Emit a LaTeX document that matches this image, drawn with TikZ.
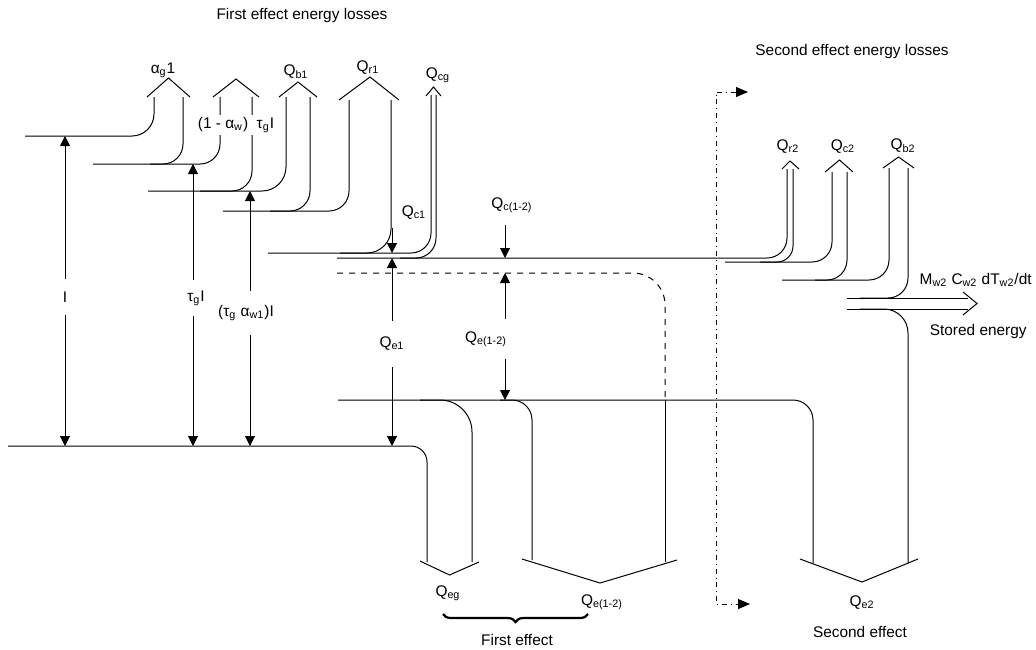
\documentclass[tikz,border=0pt]{standalone}
\usepackage{fontspec}
\setmainfont{Liberation Sans}
\usepackage{tikz}
\usetikzlibrary{arrows.meta,decorations.pathreplacing}

\begin{document}
\begin{tikzpicture}[x=0.5pt, y=-0.5pt,
  band/.style={line width=0.5pt, rounded corners=10pt},
  chev/.style={line width=0.5pt},
  dim/.style={line width=0.5pt, -{Triangle[length=5pt, width=5pt]}},
  lbl/.style={font=\fontsize{7.7}{9}\selectfont, inner sep=1pt},
  gap/.style={lbl, inner ysep=5pt}]
\useasboundingbox (0,0) rectangle (1036,649);

\draw[band, rounded corners=11pt] (25,136) -- (154,136) -- (154,97);
\draw[band] (93,164) -- (220,164) -- (220,97);
\draw[band] (150,164) -- (183,164) -- (183,97);
\draw[band, rounded corners=12pt] (148,191) -- (286,191) -- (286,97);
\draw[band] (200,191) -- (252,191) -- (252,97);
\draw[band] (223,211) -- (349,211) -- (349,100);
\draw[band] (270,211) -- (310,211) -- (310,97);
\draw[band] (268,253) -- (431,253) -- (431,95);
\draw[band, rounded corners=12pt] (340,253) -- (391,253) -- (391,100);
\draw[band] (337,258) -- (787,258) -- (787,169);
\draw[band] (400,258) -- (436,258) -- (436,95);
\draw[band, dashed, rounded corners=16pt] (337,273) -- (665,273) -- (665,400);
\draw[band] (338,400) -- (813,400) -- (813,563);
\draw[band, rounded corners=16pt] (420,400) -- (472,400) -- (472,562);
\draw[band] (500,400) -- (532,400) -- (532,560);
\draw[band] (665,400) -- (665,562);
\draw[band, rounded corners=8pt] (8,446) -- (427,446) -- (427,562);

\draw[band] (725,262) -- (832,262) -- (832,172);
\draw[band, rounded corners=8pt] (760,262) -- (793,262) -- (793,169);
\draw[band] (782,280) -- (889,280) -- (889,168);
\draw[band] (815,280) -- (847,280) -- (847,172);
\draw[band] (847,298) -- (968,298);
\draw[band] (860,298) -- (908,298) -- (908,168);
\draw[band] (847,309) -- (968,309);
\draw[band, rounded corners=12pt] (860,309) -- (908,309) -- (908,563);

\draw[chev] (147,97) -- (168.5,78) -- (190,97);
\draw[chev] (213,97) -- (236,79) -- (259,97);
\draw[chev] (279,97) -- (298,82) -- (317,97);
\draw[chev] (339,100) -- (370,77) -- (399,100);
\draw[chev] (426,96) -- (433.5,87) -- (441,96);
\draw[chev] (782,169) -- (790,161) -- (799,169);
\draw[chev] (825,172) -- (839.5,160) -- (853,172);
\draw[chev] (883,168) -- (898.5,157) -- (914,168);
\draw[chev] (963,292) -- (977,303.5) -- (963,315);
\draw[chev] (420,561) -- (449.5,575) -- (479,562);
\draw[chev] (522,559) -- (600,583) -- (677,560);
\draw[chev] (800,559) -- (862,582) -- (918,559);

\coordinate (iT) at (65,136);
\coordinate (iB) at (65,446);
\coordinate (tgT) at (193,164);
\coordinate (tgB) at (193,446);
\coordinate (taT) at (250,191);
\coordinate (taB) at (250,446);
\coordinate (e1T) at (392,258);
\coordinate (e1B) at (392,446);
\coordinate (c1S) at (392,228);
\coordinate (c1E) at (392,253);
\coordinate (c12S) at (505,225);
\coordinate (c12E) at (505,258);
\coordinate (e12T) at (505,273);
\coordinate (e12B) at (505,400);
\coordinate (sepT) at (748,92);
\coordinate (sepB) at (750,604);

\node[lbl] (ttl1) at (302,16) {First effect energy losses};
\node[lbl] (ttl2) at (852,52) {Second effect energy losses};
\node[lbl] (lAg) at (163,70) {α\textsubscript{g}1};
\node[lbl, fill=white] (lRf) at (236,125) {(1 - α\textsubscript{w})\ \ τ\textsubscript{g}I};
\node[lbl] (lQb1) at (296,72) {Q\textsubscript{b1}};
\node[lbl] (lQr1) at (368,68) {Q\textsubscript{r1}};
\node[lbl] (lQcg) at (438,75) {Q\textsubscript{cg}};
\node[lbl] (lQc1) at (414,213) {Q\textsubscript{c1}};
\node[lbl] (lQc12) at (512,205) {Q\textsubscript{c(1-2)}};
\node[lbl] (lQr2) at (788,147) {Q\textsubscript{r2}};
\node[lbl] (lQc2) at (843,147) {Q\textsubscript{c2}};
\node[lbl] (lQb2) at (903,146) {Q\textsubscript{b2}};
\node[lbl, anchor=east] (lStor) at (1034,280) {M\textsubscript{w2} C\textsubscript{w2} dT\textsubscript{w2}/dt};
\node[lbl, anchor=east] (lSe) at (1029,332) {Stored energy};
\node[lbl] (lQeg) at (448,593) {Q\textsubscript{eg}};
\node[lbl] (lQe12b) at (602,602) {Q\textsubscript{e(1-2)}};
\node[lbl] (lQe2) at (862,603) {Q\textsubscript{e2}};
\node[lbl] (lFe) at (517,640) {First effect};
\node[lbl] (lSef) at (860,632) {Second effect};

\node[gap, inner ysep=6pt] (lI) at (65,297) {I};
\node[gap] (lTg) at (196,298) {τ\textsubscript{g}I};
\node[gap, inner ysep=7pt] (lTa) at (246,313) {(τ\textsubscript{g}\ α\textsubscript{w1})I};
\node[gap, inner ysep=8pt] (lQe1) at (392,344) {Q\textsubscript{e1}};
\node[gap, inner ysep=6pt] (lQe12) at (486,339) {Q\textsubscript{e(1-2)}};

\draw[dim] (lI) -- (iT);
\draw[dim] (lI) -- (iB);
\draw[dim] (lTg.north -| tgT) -- (tgT);
\draw[dim] (lTg.south -| tgB) -- (tgB);
\draw[dim] (lTa.north -| taT) -- (taT);
\draw[dim] (lTa.south -| taB) -- (taB);
\draw[dim] (lQe1) -- (e1T);
\draw[dim] (lQe1) -- (e1B);
\draw[dim] (lQe12.north -| e12T) -- (e12T);
\draw[dim] (lQe12.south -| e12B) -- (e12B);
\draw[dim] (c1S) -- (c1E);
\draw[dim] (c12S) -- (c12E);
\draw[line width=0.5pt, dash pattern=on 2.5pt off 2pt on 0.4pt off 2pt,
  {Triangle[length=6pt, width=5pt]}-{Triangle[length=6pt, width=5pt]}]
  (sepT) -- (716,92) -- (716,604) -- (sepB);
\draw[decorate, decoration={brace, mirror, amplitude=4pt}, line width=1.1pt]
  (443,614) -- (588,614);
\end{tikzpicture}
\end{document}
